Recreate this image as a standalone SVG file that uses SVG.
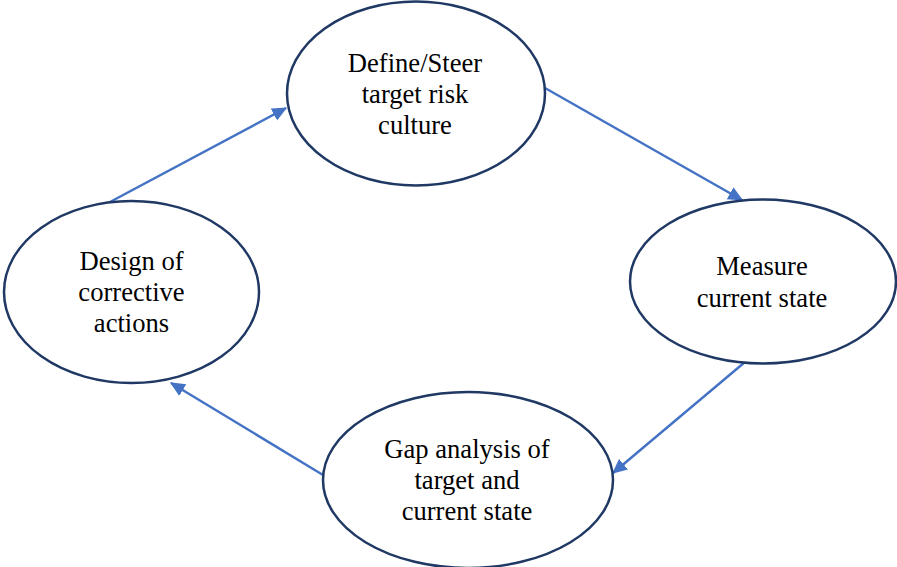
<svg xmlns="http://www.w3.org/2000/svg" width="897" height="567" viewBox="0 0 897 567">
  <defs>
    <style>
      .node { fill: #ffffff; stroke: #1f3864; stroke-width: 2.5; }
      .label { font-family: 'Liberation Serif', 'DejaVu Serif', serif; font-size: 26.6px; fill: #000000; text-anchor: middle; }
      .link { stroke: #4472c4; stroke-width: 2.4; fill: none; marker-end: url(#head); }
    </style>
    <marker id="head" viewBox="0 0 12 12" refX="11" refY="6" markerWidth="15" markerHeight="15" markerUnits="userSpaceOnUse" orient="auto">
      <path d="M0,0.5 L12,6 L0,11.5 Z" fill="#4472c4"/>
    </marker>
  </defs>

  <!-- cycle connectors -->
  <g id="connectors">
    <line class="link" x1="110" y1="202" x2="286" y2="108"/>
    <line class="link" x1="545" y1="88" x2="742" y2="200"/>
    <line class="link" x1="745" y1="362" x2="613" y2="473"/>
    <line class="link" x1="323" y1="475" x2="171" y2="383"/>
  </g>

  <g id="define-steer">
    <ellipse class="node" cx="416" cy="93.5" rx="129" ry="92"/>
    <text class="label" x="415" y="72">Define/Steer</text>
    <text class="label" x="415" y="103">target risk</text>
    <text class="label" x="415" y="134">culture</text>
  </g>

  <g id="measure">
    <ellipse class="node" cx="763" cy="281.5" rx="133" ry="82"/>
    <text class="label" x="762" y="275">Measure</text>
    <text class="label" x="762" y="306.5">current state</text>
  </g>

  <g id="gap-analysis">
    <ellipse class="node" cx="468" cy="480" rx="145" ry="88"/>
    <text class="label" x="467" y="458">Gap analysis of</text>
    <text class="label" x="467" y="489">target and</text>
    <text class="label" x="467" y="520">current state</text>
  </g>

  <g id="corrective-actions">
    <ellipse class="node" cx="131.5" cy="292" rx="127.5" ry="91"/>
    <text class="label" x="131.5" y="270">Design of</text>
    <text class="label" x="131.5" y="301">corrective</text>
    <text class="label" x="131.5" y="332">actions</text>
  </g>
</svg>
